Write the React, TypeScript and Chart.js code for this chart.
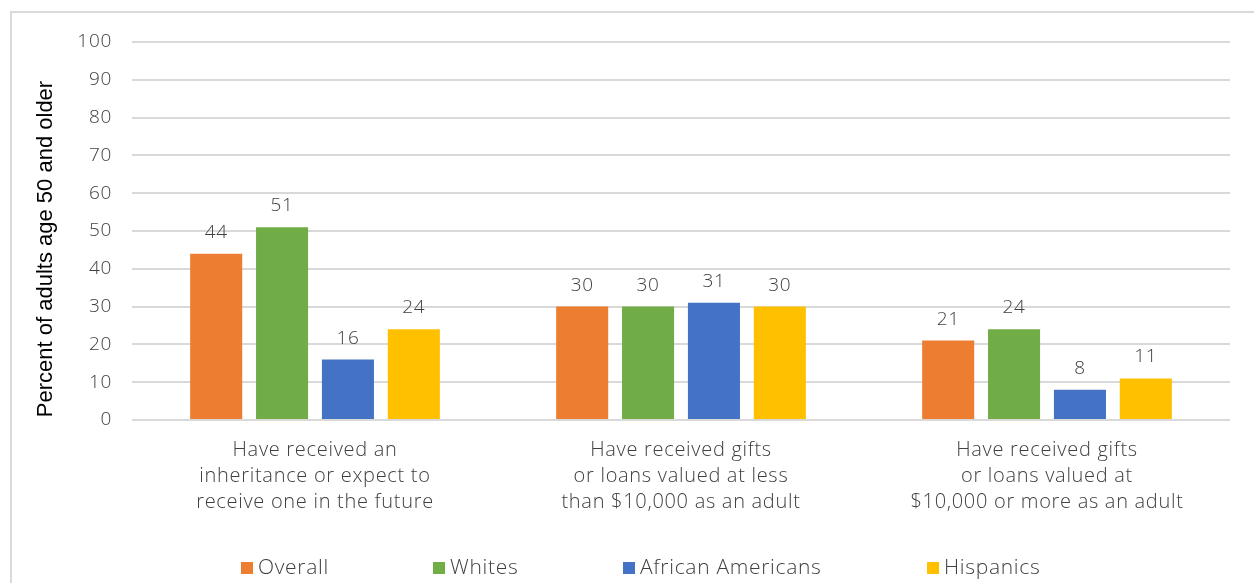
import React, { useEffect, useRef } from "react";
import { Chart, registerables } from "chart.js";

Chart.register(...registerables);

const categories: string[][] = [
  ["Have received an", "inheritance or expect to", "receive one in the future"],
  ["Have received gifts", "or loans valued at less", "than $10,000 as an adult"],
  ["Have received gifts", "or loans valued at", "$10,000 or more as an adult"],
];
const seriesNames = ["Overall", "Whites", "African Americans", "Hispanics"];
const overall = [44, 30, 21];
const whites = [51, 30, 24];
const africanAmericans = [16, 31, 8];
const hispanics = [24, 30, 11];
const seriesColors = ["#ED7D31", "#70AD47", "#4472C4", "#FFC000"];
const yAxisTitle = "Percent of adults age 50 and older";
const yMin = 0;
const yMax = 100;
const yStep = 10;

const FONT = "'Open Sans'";
const TEXT = "#404040";

const spacingPlugin = {
  id: "spacing",
  beforeDraw(chart: any) {
    (chart.ctx as any).letterSpacing = "0.7px";
  },
};

const dataLabelPlugin = {
  id: "dataLabels",
  afterDatasetsDraw(chart: any) {
    const ctx = chart.ctx;
    ctx.save();
    ctx.letterSpacing = "0.7px";
    ctx.font = `300 19px ${FONT}`;
    ctx.fillStyle = TEXT;
    ctx.textAlign = "center";
    ctx.textBaseline = "alphabetic";
    chart.data.datasets.forEach((ds: any, i: number) => {
      const meta = chart.getDatasetMeta(i);
      meta.data.forEach((bar: any, j: number) => {
        ctx.fillText(String(ds.data[j]), bar.x, bar.y - 16);
      });
    });
    ctx.restore();
  },
};

const legendOffsets = [109, 301, 491, 795];

const customDecor = {
  id: "customDecor",
  afterDraw(chart: any) {
    const ctx = chart.ctx;
    const area = chart.chartArea;
    ctx.save();
    ctx.letterSpacing = "0px";
    ctx.font = `22px 'Liberation Sans'`;
    ctx.fillStyle = "#000000";
    ctx.textAlign = "center";
    ctx.textBaseline = "middle";
    ctx.translate(area.left - 86, (area.top + area.bottom) / 2 + 18);
    ctx.rotate(-Math.PI / 2);
    ctx.fillText(yAxisTitle, 0, 0);
    ctx.restore();

    ctx.save();
    ctx.letterSpacing = "0.7px";
    ctx.font = `300 21px ${FONT}`;
    ctx.textAlign = "left";
    ctx.textBaseline = "middle";
    const yCenter = chart.height - 15;
    chart.data.datasets.forEach((ds: any, i: number) => {
      const x = area.left + legendOffsets[i];
      ctx.fillStyle = ds.backgroundColor;
      ctx.fillRect(x, yCenter - 6, 12, 12);
      ctx.fillStyle = TEXT;
      ctx.fillText(ds.label, x + 17, yCenter);
    });
    ctx.restore();
  },
};

export default function App() {
  const ref = useRef<HTMLCanvasElement | null>(null);
  useEffect(() => {
    if (!ref.current) return;
    const seriesData = [overall, whites, africanAmericans, hispanics];
    const chart = new Chart(ref.current, {
      type: "bar",
      data: {
        labels: categories,
        datasets: seriesNames.map((name, i) => ({
          label: name,
          data: seriesData[i],
          backgroundColor: seriesColors[i],
          borderWidth: 0,
          categoryPercentage: 0.72,
          barPercentage: 0.79,
        })),
      },
      options: {
        responsive: false,
        animation: false,
        layout: { padding: { top: 42, right: 24, left: 0, bottom: 0 } },
        plugins: {
          legend: { display: false },
          tooltip: { enabled: false },
          title: { display: false },
        },
        scales: {
          x: {
            grid: { display: false, drawTicks: false },
            border: { display: false },
            ticks: {
              color: TEXT,
              font: { family: FONT, size: 20, weight: "300", lineHeight: 1.3 },
              padding: 17,
              maxRotation: 0,
              autoSkip: false,
            },
            afterFit(scale: any) {
              scale.height = 163;
            },
          },
          y: {
            min: yMin,
            max: yMax,
            grid: { color: "#d9d9d9", lineWidth: 2, drawTicks: false },
            border: { display: false },
            ticks: {
              stepSize: yStep,
              color: TEXT,
              font: { family: FONT, size: 19, weight: "300" },
              padding: 20,
            },
            afterFit(scale: any) {
              scale.width = 132;
            },
          },
        },
      },
      plugins: [spacingPlugin, dataLabelPlugin, customDecor],
    });
    return () => chart.destroy();
  }, []);

  return (
    <div
      style={{
        position: "fixed",
        left: 0,
        top: 0,
        width: 1254,
        height: 583,
        overflow: "hidden",
        background: "#ffffff",
      }}
    >
      <div
        style={{
          position: "absolute",
          left: 10,
          top: 11,
          width: 1300,
          height: 700,
          border: "2px solid #d9d9d9",
          boxSizing: "border-box",
        }}
      />
      <canvas
        ref={ref}
        width={1254}
        height={583}
        style={{ position: "absolute", left: 0, top: 0, width: 1254, height: 583 }}
      />
    </div>
  );
}
